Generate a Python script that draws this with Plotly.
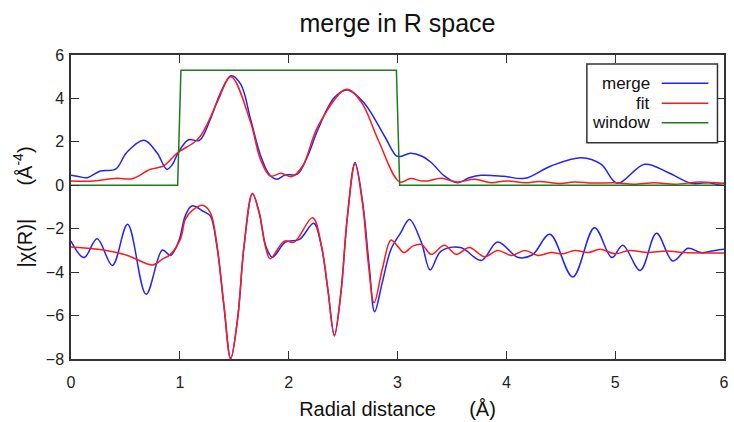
import plotly.graph_objects as go

# |chi(R)| magnitude, data
r_merge_mag = [0.00, 0.07, 0.15, 0.27, 0.41, 0.51, 0.67, 0.79, 0.88, 0.93, 0.99, 1.08, 1.18,
               1.28, 1.375, 1.47, 1.56, 1.65, 1.74, 1.82, 1.89, 1.97, 2.08, 2.17, 2.27, 2.42,
               2.54, 2.69, 2.88, 2.99, 3.03, 3.12, 3.22, 3.31, 3.43, 3.55, 3.66, 3.77, 3.97,
               4.17, 4.41, 4.69, 4.87, 5.02, 5.27, 5.49, 5.70, 5.86, 5.93, 6.00]
merge_mag = [0.46, 0.40, 0.35, 0.66, 0.74, 1.50, 2.07, 1.50, 0.74, 0.95, 1.55, 2.10, 2.07,
             3.04, 4.27, 5.04, 4.65, 3.04, 1.40, 0.51, 0.28, 0.48, 0.51, 1.30, 2.58, 4.04,
             4.39, 3.81, 2.27, 1.35, 1.33, 1.47, 1.35, 1.05, 0.43, 0.12, 0.35, 0.46, 0.42,
             0.32, 0.89, 1.27, 0.97, 0.09, 0.97, 0.58, 0.09, 0.12, 0.05, 0.10]

# |chi(R)| magnitude, fit
r_fit_mag = [0.00, 0.21, 0.42, 0.56, 0.73, 0.85, 0.98, 1.13, 1.19, 1.25, 1.35, 1.47, 1.65,
             1.74, 1.83, 1.93, 2.03, 2.13, 2.27, 2.53, 2.67, 2.82, 3.02, 3.12, 3.22, 3.28,
             3.40, 3.55, 3.71, 3.86, 4.00, 4.17, 4.30, 4.50, 4.62, 4.80, 5.00, 5.17, 5.36,
             5.55, 5.78, 6.00]
fit_mag = [0.20, 0.20, 0.32, 0.30, 0.74, 0.89, 1.50, 1.97, 2.27, 2.80, 3.90, 5.00, 2.90,
           1.20, 0.43, 0.55, 0.40, 0.90, 2.73, 4.42, 3.81, 2.12, 0.15, 0.31, 0.20, 0.20,
           0.32, 0.15, 0.28, 0.12, 0.20, 0.12, 0.17, 0.08, 0.15, 0.10, 0.12, 0.05, 0.12,
           0.05, 0.15, 0.08]

# Re[chi(R)] shifted by -3, data
r_merge_re = [0.00, 0.12, 0.24, 0.38, 0.52, 0.69, 0.84, 0.914, 0.99, 1.05, 1.11, 1.22, 1.28,
              1.34, 1.405, 1.467, 1.53, 1.59, 1.667, 1.73, 1.79, 1.85, 1.97, 2.10, 2.23, 2.30,
              2.36, 2.42, 2.48, 2.54, 2.61, 2.68, 2.74, 2.79, 2.86, 2.94, 3.03, 3.11, 3.22,
              3.30, 3.40, 3.58, 3.77, 3.92, 4.11, 4.24, 4.40, 4.61, 4.81, 4.97, 5.07, 5.23,
              5.38, 5.53, 5.67, 5.79, 5.92, 6.00]
merge_re = [-2.57, -3.33, -2.46, -3.69, -1.80, -5.02, -2.98, -3.23, -2.57, -1.41, -0.95, -1.21, -1.41,
            -2.80, -5.56, -7.97, -6.17, -2.80, -0.39, -1.26, -2.80, -3.31, -2.62, -2.49, -1.75, -2.80,
            -4.79, -6.90, -4.94, -1.41, 1.05, -0.80, -3.72, -5.82, -4.48, -2.95, -2.18, -1.57, -2.64,
            -3.90, -3.03, -2.87, -3.46, -2.61, -3.33, -3.20, -2.26, -4.22, -1.95, -3.33, -2.76, -3.92,
            -2.21, -3.49, -2.90, -3.10, -3.00, -2.95]

# Re[chi(R)] shifted by -3, fit
r_fit_re = [0.00, 0.30, 0.52, 0.75, 0.84, 0.914, 1.006, 1.05, 1.11, 1.21, 1.28, 1.34, 1.405,
            1.467, 1.53, 1.59, 1.667, 1.73, 1.79, 1.83, 1.96, 2.05, 2.22, 2.30, 2.36, 2.42,
            2.48, 2.54, 2.61, 2.68, 2.73, 2.785, 2.86, 2.94, 3.00, 3.06, 3.14, 3.22, 3.31,
            3.43, 3.54, 3.66, 3.80, 3.92, 4.05, 4.17, 4.29, 4.41, 4.52, 4.63, 4.75, 4.86,
            5.00, 5.13, 5.30, 5.47, 5.64, 5.79, 6.00]
fit_re = [-2.84, -2.98, -3.23, -3.67, -3.40, -3.18, -2.47, -1.57, -1.18, -0.92, -1.26, -2.70, -5.50,
          -8.00, -6.20, -2.80, -0.37, -1.30, -2.90, -3.38, -2.57, -2.62, -1.49, -2.75, -4.80, -6.94,
          -4.95, -1.45, 0.98, -0.90, -3.50, -5.41, -3.87, -2.52, -2.80, -3.10, -2.80, -2.72, -3.18,
          -2.76, -3.18, -2.87, -3.29, -3.00, -3.23, -3.00, -3.23, -3.10, -3.15, -3.00, -3.10, -2.95,
          -3.15, -3.00, -3.10, -3.03, -3.10, -3.12, -3.12]

# Fourier-transform window in R
r_window = [0.00, 0.98, 1.01, 2.99, 3.02, 6.00]
window = [0.0, 0.0, 5.3, 5.3, 0.0, 0.0]

BLUE = "#2222ff"
RED = "#ff1a1a"
GREEN = "#1e7b1e"
AXIS = "#333333"
FONT = "Liberation Sans, Arial, sans-serif"
GAP = "\u00a0" * 6

fig = go.Figure()
for r, v, c in [(r_merge_mag, merge_mag, BLUE), (r_fit_mag, fit_mag, RED),
                (r_merge_re, merge_re, BLUE), (r_fit_re, fit_re, RED)]:
    fig.add_trace(go.Scatter(x=r, y=v, mode="lines", showlegend=False,
                             line=dict(color=c, width=1.5, shape="spline", smoothing=1.0)))
fig.add_trace(go.Scatter(x=r_window, y=window, mode="lines", showlegend=False,
                         line=dict(color=GREEN, width=1.5)))

# key box with labels on the left and line samples on the right
key = [("merge", BLUE, 0.907), ("fit", RED, 0.841), ("window", GREEN, 0.777)]
fig.add_shape(type="rect", xref="paper", yref="paper", x0=0.790, x1=0.990, y0=0.7115, y1=0.970,
              line=dict(color=AXIS, width=1.5), fillcolor="white", layer="above")
for name, col, yy in key:
    fig.add_annotation(xref="paper", yref="paper", x=0.890, y=yy, text=name, showarrow=False,
                       xanchor="right", yanchor="middle", font=dict(family=FONT, size=17, color="#111"))
    fig.add_shape(type="line", xref="paper", yref="paper", x0=0.9046, x1=0.976, y0=yy, y1=yy,
                  line=dict(color=col, width=1.5), layer="above")

axis_common = dict(showgrid=False, zeroline=False, showline=True, linecolor=AXIS, linewidth=1.5,
                   mirror="ticks", ticks="inside", ticklen=8, tickwidth=1.2, tickcolor=AXIS,
                   automargin=False,
                   tickfont=dict(family=FONT, size=16, color="#222"))

fig.update_layout(
    width=734, height=422,
    margin=dict(l=71, r=10, t=55, b=63),
    paper_bgcolor="white", plot_bgcolor="white",
    title=dict(text="merge in R space", x=0.5, xref="paper", xanchor="center",
               y=0.945, yref="container", yanchor="middle",
               font=dict(family=FONT, size=25, color="#111")),
    xaxis=dict(range=[0, 6], dtick=1, tick0=0, ticklabelstandoff=8,
               title=dict(text="Radial distance" + GAP + "(Å)", standoff=12,
                          font=dict(family=FONT, size=20, color="#111")),
               **axis_common),
    yaxis=dict(range=[-8, 6], dtick=2, tick0=0, ticklabelstandoff=2,
               title=dict(text="|χ(R)|" + GAP + "(Å<sup>-4</sup>)", standoff=8,
                          font=dict(family=FONT, size=20, color="#111")),
               **axis_common),
)

fig.write_html("out.html")
